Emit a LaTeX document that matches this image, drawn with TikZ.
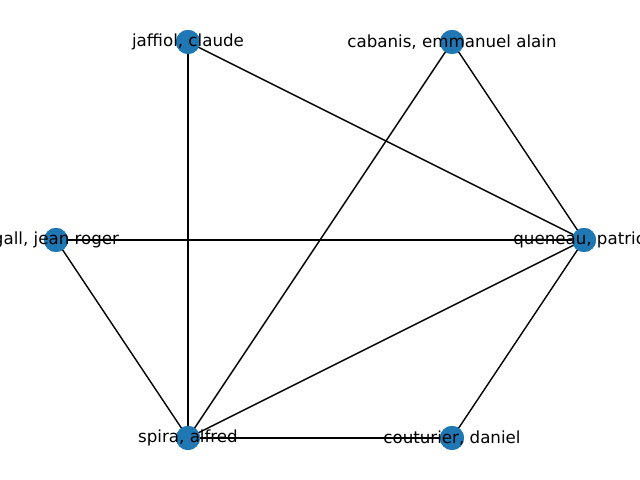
\documentclass[tikz,border=0pt]{standalone}
\usepackage{fontspec}
\setmainfont{DejaVu Sans}
\definecolor{nodeblue}{HTML}{1F77B4}
\tikzset{
  vert/.style={circle,fill=nodeblue,minimum size=0.24in,inner sep=0pt},
  lbl/.style={inner sep=0pt,font=\fontsize{12bp}{14bp}\selectfont,text=black},
  edge/.style={draw=black,line width=1bp}
}
\begin{document}
\begin{tikzpicture}[x=0.01in,y=-0.01in]
\useasboundingbox (0,0) rectangle (640,480);
\clip (0,0) rectangle (640,480);
\fill[white] (0,0) rectangle (640,480);
\node[vert] (jaffiol) at (188,42) {};
\node[vert] (cabanis) at (452,42) {};
\node[vert] (gall) at (56,240) {};
\node[vert] (queneau) at (584,240) {};
\node[vert] (spira) at (188,438) {};
\node[vert] (couturier) at (452,438) {};
\begin{scope}[on background layer/.style={}]
\end{scope}
\path[edge] (jaffiol.center) -- (queneau.center);
\path[edge] (jaffiol.center) -- (spira.center);
\path[edge] (cabanis.center) -- (queneau.center);
\path[edge] (cabanis.center) -- (spira.center);
\path[edge] (gall.center) -- (queneau.center);
\path[edge] (gall.center) -- (spira.center);
\path[edge] (queneau.center) -- (spira.center);
\path[edge] (queneau.center) -- (couturier.center);
\path[edge] (spira.center) -- (couturier.center);
\foreach \n in {jaffiol,cabanis,gall,queneau,spira,couturier}{
  \fill[nodeblue] (\n) circle (0.12in);
}
\node[lbl] (tjaffiol) at (jaffiol) {jaffiol, claude};
\node[lbl] (tcabanis) at (cabanis) {cabanis, emmanuel alain};
\node[lbl] (tgall) at (gall) {gall, jean roger};
\node[lbl] (tqueneau) at (queneau) {queneau, patrick};
\node[lbl] (tspira) at (spira) {spira, alfred};
\node[lbl] (tcouturier) at (couturier) {couturier, daniel};
\end{tikzpicture}
\end{document}
